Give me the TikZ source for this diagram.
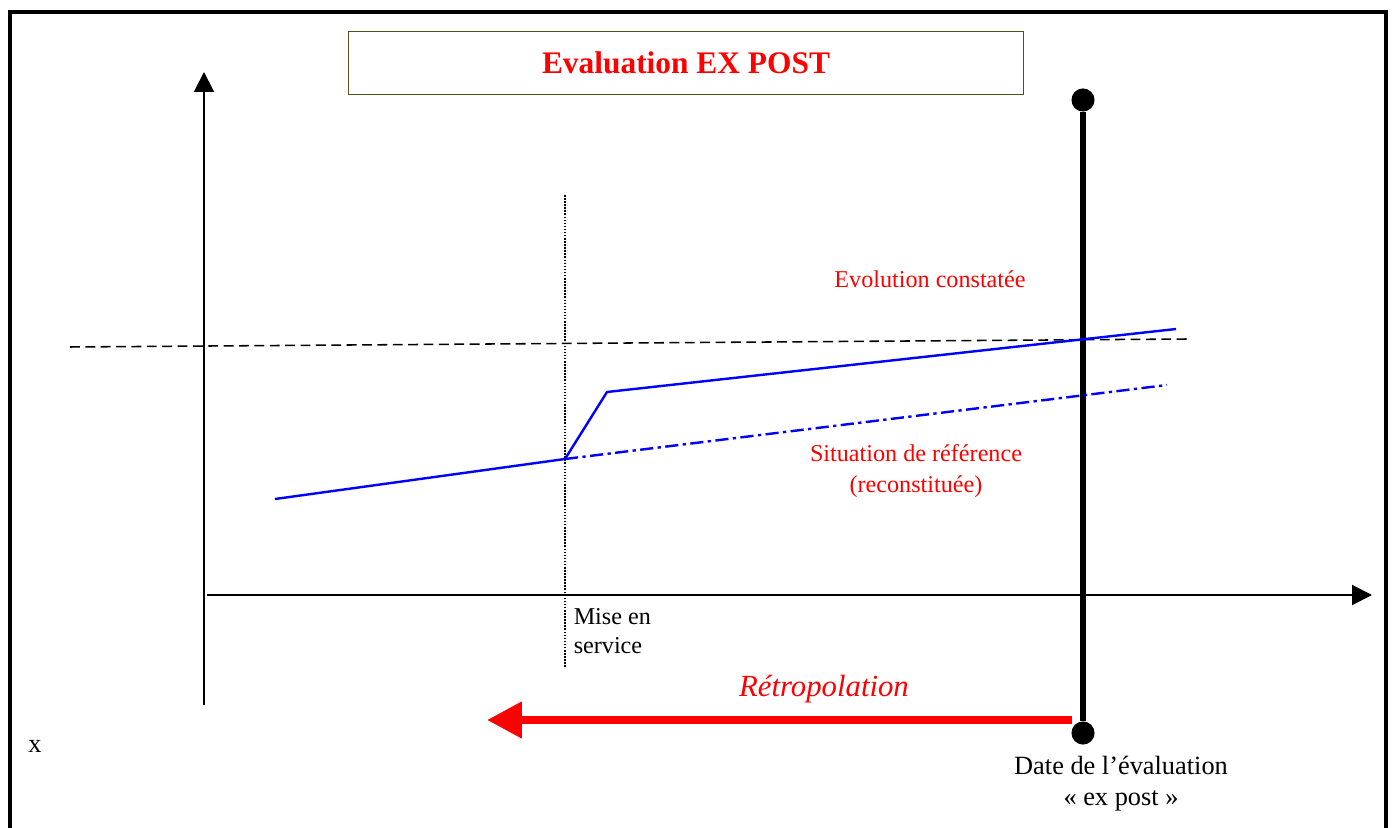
\documentclass[tikz,border=0pt]{standalone}
\usepackage{fontspec}
\setmainfont{Liberation Serif}
\usepackage{xcolor}
\usepackage{tikz}
\usetikzlibrary{arrows.meta}
\usetikzlibrary{positioning}
\definecolor{boxolive}{RGB}{80,80,30}
\tikzset{
frame line/.style = { draw = black, line width = 1.8pt },
axis line/.style = { draw = black, line width = 0.9pt, -{Triangle[length = 0.32cm, width = 0.32cm]} },
title box/.style = { rectangle, draw = boxolive, line width = 0.7pt, fill = white, minimum width = 10.8cm, minimum height = 1.01cm, font = \fontsize{14.3}{16}\selectfont\bfseries, text = red },
end dot/.style = { circle, fill = black, inner sep = 0pt, minimum size = 0.37cm },
date line/.style = { draw = black, line width = 2.3pt },
observed/.style = { draw = blue, line width = 1.1pt, line join = round },
reference/.style = { draw = blue, line width = 1.1pt, dash pattern = on 6pt off 2pt on 1.5pt off 2pt },
threshold/.style = { draw = black, line width = 0.7pt, dash pattern = on 4.5pt off 2.5pt },
service line/.style = { draw = black, line width = 0.7pt, dash pattern = on 0.7pt off 0.7pt },
red label/.style = { text = red, font = \fontsize{11}{14}\selectfont, align = center },
black label/.style = { text = black, font = \fontsize{11}{13.2}\selectfont },
back arrow/.style = { draw = red, line width = 3.6pt, -{Triangle[length = 0.56cm, width = 0.56cm]} },
}

\begin{document}
\begin{tikzpicture}[x = 0.016cm, y = -0.016cm]
      \useasboundingbox (0, 0) rectangle (1393, 828);
      % outer frame, open at the bottom
      \draw[frame line] (10, 828) -- (10, 12) -- (1386, 12) -- (1386, 828);
      \node[title box] (title) at (686, 63) {Evaluation EX POST};

      % axes
      \coordinate (ybot) at (204, 705);
      \coordinate (ytop) at (204, 72);
      \coordinate (xleft) at (207, 595);
      \coordinate (xright) at (1372, 595);
      \draw[axis line] (ybot) -- (ytop);
      \draw[axis line] (xleft) -- (xright);

      % date of the evaluation
      \node[end dot] (topdot) at (1083, 100) {};
      \node[end dot] (botdot) at (1083, 733) {};
      \draw[date line] (topdot) -- (botdot);

      % commissioning
      \coordinate (svtop) at (565, 195);
      \coordinate (svbot) at (565, 668);
      \draw[service line] (svtop) -- (svbot);

      % curves
      \coordinate (d0) at (70, 347);
      \coordinate (d1) at (1188, 339);
      \draw[threshold] (d0) -- (d1);
      \coordinate (s0) at (275, 499);
      \coordinate (s1) at (565, 459);
      \coordinate (s2) at (607, 392);
      \coordinate (s3) at (1176, 329);
      \coordinate (r1) at (1167, 385);
      \draw[reference] (s1) -- (r1);
      \draw[observed] (s0) -- (s1) -- (s2) -- (s3);

      \node[red label] (evol) at (930, 279) {Evolution constatée};
      \node[red label] (situ) at (916, 471) {Situation de référence\\(reconstituée)};
      \node[black label, anchor = west, align = left] (mise) at (566, 631) {Mise en\\service};

      % backward arrow
      \coordinate (rstart) at (1072, 720);
      \coordinate (rend) at (487, 720);
      \draw[back arrow] (rstart) -- (rend);
      \node[text = red, font = \fontsize{14}{16}\selectfont\itshape] (retro) at (824, 689) {Rétropolation};

      \node[font = \fontsize{12}{14}\selectfont] (xlab) at (35, 746) {x};
      \node[font = \fontsize{12}{14.1}\selectfont, align = center] (date) at (1121, 784) {Date de l’évaluation\\« ex post »};
    \end{tikzpicture}
\end{document}
